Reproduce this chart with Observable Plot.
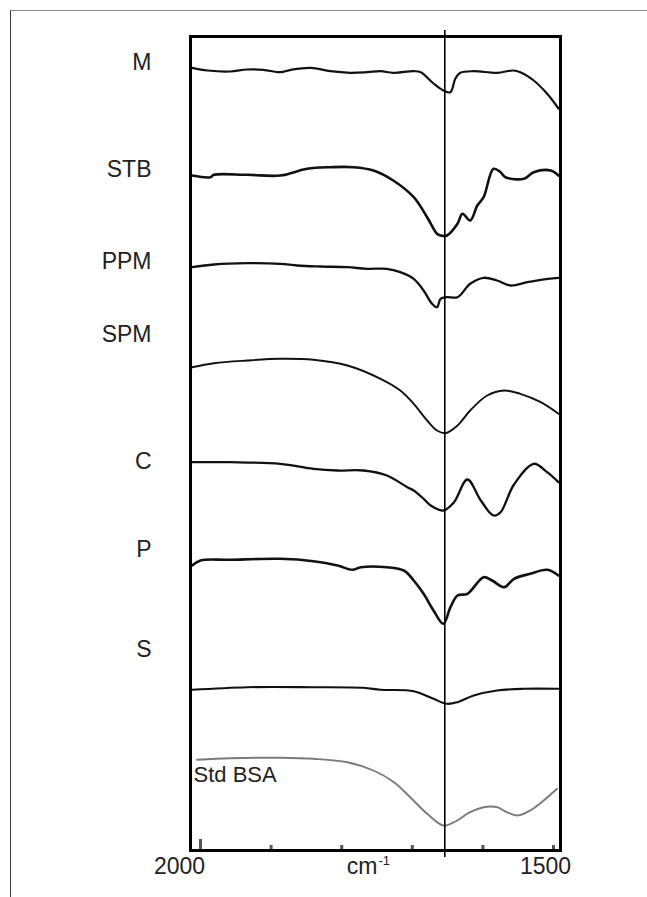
<!DOCTYPE html>
<html><head><meta charset="utf-8">
<script src="https://cdn.jsdelivr.net/npm/d3@7"></script>
<script src="https://cdn.jsdelivr.net/npm/@observablehq/plot@0.6"></script>
<style>
body{margin:0;background:#fff;}
#wrap{position:relative;width:647px;height:897px;overflow:hidden;background:#fff;}
#wrap svg{position:absolute;left:0;top:0;}
#border{position:absolute;left:10px;top:10px;right:-5px;bottom:-5px;border-top:1.5px solid #8c8c8c;border-left:1.5px solid #3c3c3c;pointer-events:none;}
</style></head><body><div id="wrap"><div id="border"></div></div>
<script>
// Spectra: [wavenumber (cm-1), relative transmittance (arb. units, stacked)]
const M = [[2012,782.7],[1990,780],[1958,779],[1934,781],[1911,780.7],[1887,778.3],[1872,780.7],[1844,782.7],[1816,779.3],[1788,777.7],[1764,778.3],[1745,779.3],[1727,777.7],[1698,779.3],[1688,778.3],[1670,767],[1656,760],[1646,758.3],[1639,772],[1632,777.7],[1613,779.3],[1580,777.7],[1557,780],[1547,778.3],[1528,770],[1509,756.7],[1493,742]];
const STB = [[2012,675],[1986,673.3],[1981,675.7],[1934,675.7],[1887,675],[1849,681.7],[1816,683.3],[1783,683.3],[1755,680],[1727,670],[1698,653.3],[1679,633.3],[1665,616.7],[1660,615],[1651,615],[1636,626.7],[1629,636.7],[1618,630],[1608,645],[1599,653.3],[1585,681.7],[1575,678.3],[1568,673.3],[1542,671.7],[1528,678.3],[1504,680],[1493,675]];
const PPM = [[2012,583.3],[1981,586],[1934,587.3],[1887,586.7],[1863,585],[1830,584],[1792,583.3],[1764,581.7],[1736,581.7],[1717,578.3],[1698,571.7],[1684,560],[1672,546.7],[1665,543.3],[1660,551.7],[1651,553.3],[1636,553.3],[1618,566.7],[1599,572.7],[1580,570],[1561,565],[1537,568.3],[1518,570.7],[1493,572.7]];
const SPM = [[2012,483.3],[1981,487.3],[1934,490],[1887,491.7],[1840,490.7],[1792,485],[1745,471.7],[1717,460],[1698,446.7],[1679,430],[1665,420],[1653,417.3],[1636,425],[1618,440],[1594,455],[1570,460],[1547,456.7],[1518,448.3],[1493,436.7]];
const C = [[2012,388.3],[1958,388.3],[1887,386.7],[1840,381.7],[1806,380],[1769,380],[1736,375],[1707,363.3],[1698,360],[1684,351.7],[1674,345],[1656,340],[1641,348.3],[1622,371],[1603,350],[1585,335],[1575,338.3],[1556,366],[1528,386.7],[1509,378.3],[1493,368.3]];
const P = [[2012,285],[2000,290],[1958,290.7],[1887,291.7],[1840,289.3],[1806,285],[1785,280.7],[1773,283.3],[1736,283.3],[1712,280],[1698,270],[1684,256.7],[1670,240],[1656,226.7],[1646,243.3],[1636,255],[1622,256.7],[1599,273.3],[1587,270],[1570,263.3],[1556,271.7],[1533,276.7],[1509,280.7],[1493,275]];
const S = [[2012,160.7],[1934,163.3],[1840,163.3],[1769,162.7],[1745,160.7],[1698,159.3],[1670,151.7],[1651,146.7],[1636,148.3],[1613,155],[1580,160],[1542,161.7],[1493,161.7]];
const BSA = [[2005,90.7],[1958,92.3],[1887,92.7],[1840,91.7],[1792,88.3],[1755,80],[1726,68.3],[1703,53.3],[1679,36.7],[1656,25],[1641,28.3],[1618,38.3],[1599,43.3],[1580,43.3],[1566,38.3],[1551,35],[1533,40],[1514,50],[1495,61.7]];

const sampleNames = ["M","STB","PPM","SPM","C","P","S"];
const sampleLabelLevel = [788,681,588.5,516,389,301,201];
const stdName = "Std BSA";
const stdLabelLevel = 76;
const markerWavenumber = 1654;
const tickValues = [2000,1900,1800,1700,1600,1500];
const axisEnds = ["2000","1500"];
const axisUnit = "cm";
const axisUnitSup = "-1";

const traces = [M, STB, PPM, SPM, C, P, S];
const widths = [2.2, 2.6, 2.3, 1.9, 2.3, 2.6, 2.1];
const font = "'Liberation Sans', Arial, sans-serif";

const labels = sampleNames.map((n, i) => ({name: n, t: sampleLabelLevel[i]}));

const marks = [];
traces.forEach((tr, i) => {
  marks.push(Plot.line(tr, {x: d => d[0], y: d => d[1], stroke: "#111", strokeWidth: widths[i], curve: "catmull-rom", strokeLinejoin: "round"}));
});
marks.push(Plot.line(BSA, {x: d => d[0], y: d => d[1], stroke: "#7a7a7a", strokeWidth: 1.9, curve: "catmull-rom"}));
marks.push(Plot.ruleX(tickValues, {y1: 0, y2: d => d === 2000 ? 11 : 5, stroke: "#555", strokeWidth: 3}));
marks.push(Plot.ruleX([markerWavenumber], {y1: -7, y2: 820, stroke: "#000", strokeWidth: 1.6}));
marks.push(Plot.frame({stroke: "#000", strokeWidth: 3}));
marks.push(Plot.text(labels, {frameAnchor: "left", y: "t", text: "name", textAnchor: "end", dx: -39, fontSize: 23, fill: "#222"}));
marks.push(Plot.text([stdName], {frameAnchor: "left", y: [stdLabelLevel], text: d => d, textAnchor: "start", dx: 3, fontSize: 22, fill: "#222"}));
marks.push(Plot.text([axisEnds[0]], {x: [tickValues[0]], frameAnchor: "bottom", text: d => d, dx: -21, dy: 23, fontSize: 23, fill: "#222"}));
marks.push(Plot.text([axisEnds[1]], {x: [tickValues[tickValues.length - 1]], frameAnchor: "bottom", text: d => d, dx: -8, dy: 23, fontSize: 23, fill: "#222"}));
marks.push(Plot.text([axisUnit], {frameAnchor: "bottom", text: d => d, textAnchor: "end", dx: 2, dy: 23, fontSize: 23, fill: "#222"}));
marks.push(Plot.text([axisUnitSup], {frameAnchor: "bottom", text: d => d, textAnchor: "start", dx: 3, dy: 14, fontSize: 13, fill: "#222"}));

const chart = Plot.plot({
  width: 647,
  height: 897,
  marginLeft: 190,
  marginRight: 87,
  marginTop: 36,
  marginBottom: 47,
  style: {background: "transparent", fontFamily: font},
  x: {domain: [2014.2, 1490.1], axis: null},
  y: {domain: [0, 814], axis: null},
  marks
});
document.getElementById("wrap").appendChild(chart);
</script>
</body></html>
